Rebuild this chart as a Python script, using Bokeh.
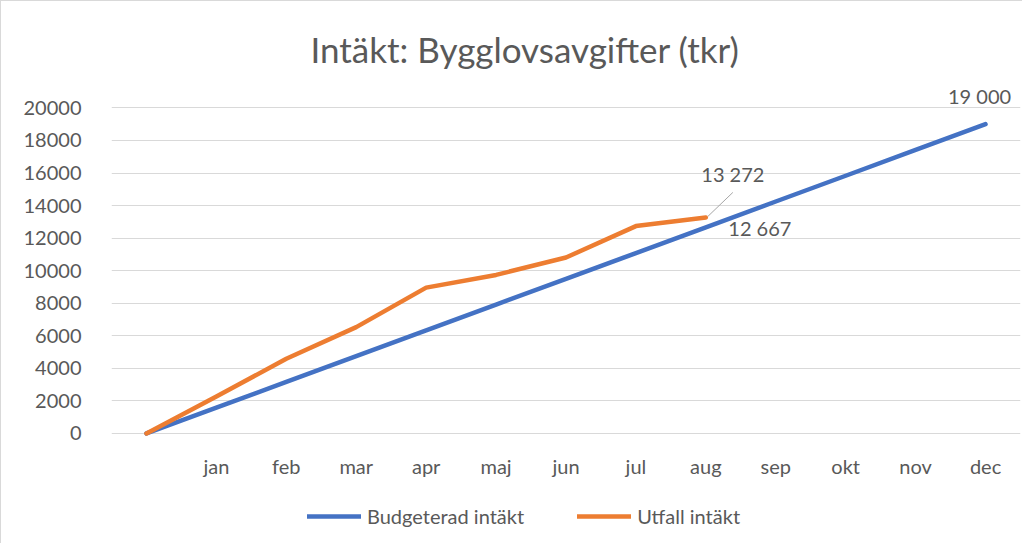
from bokeh.plotting import figure
from bokeh.models import Range1d, FixedTicker, Legend, LegendItem
from bokeh.core.properties import value
from bokeh.embed import file_html
from bokeh.resources import INLINE

months = ["", "jan", "feb", "mar", "apr", "maj", "jun", "jul", "aug", "sep", "okt", "nov", "dec"]
budget = [0, 1583, 3167, 4750, 6333, 7917, 9500, 11083, 12667, 14250, 15833, 17417, 19000]
utfall = [0, 2270, 4590, 6530, 8960, 9740, 10810, 12740, 13272]
y_ticks = [0, 2000, 4000, 6000, 8000, 10000, 12000, 14000, 16000, 18000, 20000]

FONT = "Lato"
TXT = "#595959"
BLUE = "#4472C4"
ORANGE = "#ED7D31"
FS = "20px"

W, H = 1022, 543
p = figure(width=W, height=H, output_backend="svg", toolbar_location=None,
           x_range=Range1d(-0.5, 12.5), y_range=Range1d(-6700, 21500),
           min_border_left=110, min_border_right=3, min_border_top=82, min_border_bottom=2,
           title="Intäkt: Bygglovsavgifter (tkr)")
p.styles = {"border-left": "1px solid #d9d9d9", "border-top": "1px solid #d9d9d9"}
p.outline_line_color = None
p.background_fill_color = "white"
p.border_fill_color = "white"

p.title.text_font = FONT
p.title.text_font_size = "35px"
p.title.text_font_style = "normal"
p.title.text_color = TXT
p.title.align = "left"
p.title.offset = 199
p.title.standoff = 28

xs_b = list(range(len(budget)))
xs_u = list(range(len(utfall)))
r_b = p.line(xs_b, budget, line_color=BLUE, line_width=4.5, line_cap="round", line_join="round")
r_u = p.line(xs_u, utfall, line_color=ORANGE, line_width=4.5, line_cap="round", line_join="round")

# x category labels drawn under the zero line
p.xaxis.visible = False
mx = [i for i, m in enumerate(months) if m]
ml = [m for m in months if m]
p.text(x=mx, y=[0] * len(mx), text=ml, y_offset=33, text_align="center",
       text_baseline="middle", text_font=value(FONT), text_font_size=FS, text_color=TXT)

p.yaxis.ticker = FixedTicker(ticks=y_ticks)
p.yaxis.axis_line_color = None
p.yaxis.major_tick_line_color = None
p.yaxis.minor_tick_line_color = None
p.yaxis.major_label_standoff = 24
p.yaxis.major_label_text_font = FONT
p.yaxis.major_label_text_font_size = FS
p.yaxis.major_label_text_color = TXT

p.xgrid.grid_line_color = None
p.ygrid.ticker = FixedTicker(ticks=y_ticks)
p.ygrid.grid_line_color = "#d9d9d9"
p.ygrid.grid_line_width = 1

# data labels
px_per_x = 909 / 13.0
px_per_y = 459 / 28200.0
last_b = len(budget) - 1
last_u = len(utfall) - 1
fmt = lambda v: f"{v:,}".replace(",", " ")

p.text(x=[last_b], y=[budget[-1]], text=[fmt(budget[-1])], x_offset=-6, y_offset=-28,
       text_align="center", text_baseline="middle", text_font=value(FONT),
       text_font_size=FS, text_color=TXT)
p.text(x=[last_u], y=[budget[last_u]], text=[fmt(budget[last_u])], x_offset=54, y_offset=1,
       text_align="center", text_baseline="middle", text_font=value(FONT),
       text_font_size=FS, text_color=TXT)
p.text(x=[last_u], y=[utfall[-1]], text=[fmt(utfall[-1])], x_offset=27, y_offset=-43,
       text_align="center", text_baseline="middle", text_font=value(FONT),
       text_font_size=FS, text_color=TXT)
p.segment(x0=[last_u + 2 / px_per_x], y0=[utfall[-1] + 1 / px_per_y],
          x1=[last_u + 27 / px_per_x], y1=[utfall[-1] + 25 / px_per_y],
          line_color="#a6a6a6", line_width=1)

legend = Legend(items=[LegendItem(label="Budgeterad intäkt", renderers=[r_b]),
                       LegendItem(label="Utfall intäkt", renderers=[r_u])],
                orientation="horizontal", location=(196, 14))
legend.border_line_color = None
legend.background_fill_alpha = 0
legend.padding = 0
legend.margin = 0
legend.spacing = 53
legend.glyph_width = 54
legend.glyph_height = 20
legend.label_standoff = 6
legend.label_text_font = FONT
legend.label_text_font_size = FS
legend.label_text_color = TXT
p.add_layout(legend, "center")

open("out.html", "w").write(file_html(p, INLINE))
